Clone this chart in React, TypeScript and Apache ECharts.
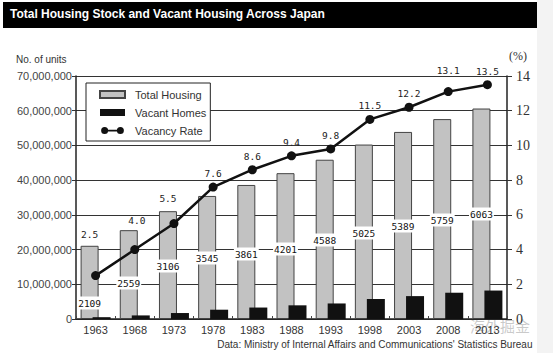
import React, { useEffect, useRef } from "react";
import * as echarts from "echarts";

const years = ["1963", "1968", "1973", "1978", "1983", "1988", "1993", "1998", "2003", "2008", "2013"];
const totalHousing = [21090000, 25590000, 31060000, 35450000, 38610000, 42010000, 45880000, 50250000, 53890000, 57590000, 60630000];
const vacantHomes = [522000, 1034000, 1720000, 2679000, 3302000, 3940000, 4476000, 5764000, 6593000, 7568000, 8196000];
const vacancyRate = [2.5, 4.0, 5.5, 7.6, 8.6, 9.4, 9.8, 11.5, 12.2, 13.1, 13.5];
const leftTicks = [0, 10000000, 20000000, 30000000, 40000000, 50000000, 60000000, 70000000];
const rightTicks = [0, 2, 4, 6, 8, 10, 12, 14];

// label placement styles (pixels)
const totalLabelLift = [17, 37, 54, 62, 66, 71, 80, 87, 94, 100, 106];
const rateLabelShift = [[-6, -28], [2, -16], [-6, -12], [0, 0], [0, 0], [0, 0], [0, 0], [0, 0], [0, 0], [0, -8], [0, 0]];

const lineIcon =
  "path://M4,0A4,4,0,1,1,4,8A4,4,0,1,1,4,0ZM22,0A4,4,0,1,1,22,8A4,4,0,1,1,22,0ZM4,3L22,3L22,5L4,5Z";

export default function App() {
  const ref = useRef<HTMLDivElement>(null);
  useEffect(() => {
    if (!ref.current) return;
    const chart = echarts.init(ref.current, null, { renderer: "svg" });
    chart.setOption({
      animation: false,
      backgroundColor: "#ffffff",
      grid: { left: 76, right: 46, top: 76, bottom: 34, containLabel: false },
      legend: {
        orient: "vertical",
        left: 86,
        top: 83,
        backgroundColor: "#ffffff",
        borderColor: "#222",
        borderWidth: 1,
        padding: [6, 4, 5, 13],
        itemWidth: 25,
        itemHeight: 7,
        itemGap: 7,
        textStyle: { fontSize: 11, fontFamily: "Liberation Sans", color: "#333", padding: [0, 0, 0, 5] },
        data: [
          { name: "Total Housing", icon: "rect" },
          { name: "Vacant Homes", icon: "rect" },
          { name: "Vacancy Rate", icon: lineIcon },
        ],
      },
      xAxis: {
        type: "category",
        data: years,
        axisLine: { lineStyle: { color: "#222", width: 1.5 } },
        axisTick: { show: true, inside: true, length: 3, lineStyle: { color: "#444" } },
        axisLabel: { fontSize: 11, fontFamily: "Liberation Sans", color: "#333", margin: 5 },
      },
      yAxis: [
        {
          type: "value",
          min: leftTicks[0],
          max: leftTicks[leftTicks.length - 1],
          interval: leftTicks[1] - leftTicks[0],
          axisLine: { show: true, lineStyle: { color: "#222", width: 1.5 } },
          axisTick: { show: true, inside: false, length: 4, lineStyle: { color: "#333" } },
          splitLine: { show: true, lineStyle: { color: "#333", width: 1.2 } },
          axisLabel: {
            fontSize: 11,
            fontFamily: "Liberation Sans",
            color: "#444",
            margin: 4,
            formatter: (v: number) => v.toLocaleString("en-US"),
          },
        },
        {
          type: "value",
          min: rightTicks[0],
          max: rightTicks[rightTicks.length - 1],
          interval: rightTicks[1] - rightTicks[0],
          position: "right",
          axisLine: { show: true, lineStyle: { color: "#222", width: 1.5 } },
          axisTick: { show: true, inside: false, length: 5, lineStyle: { color: "#333" } },
          splitLine: { show: false },
          axisLabel: { fontSize: 14, fontFamily: "Liberation Serif", color: "#333", margin: 9 },
        },
      ],
      series: [
        {
          name: "Total Housing",
          type: "bar",
          barWidth: 18,
          barGap: "-33.4%",
          itemStyle: { color: "#c2c2c2", borderColor: "#444", borderWidth: 1 },
          data: totalHousing.map((v, i) => ({
            value: v,
            label: { offset: [0, -(totalLabelLift[i] - 7.5)] },
          })),
          label: {
            show: true,
            position: "insideBottom",
            distance: 0,
            formatter: (p: any) => String(Math.round(p.value / 10000)),
            fontFamily: "DejaVu Sans Mono",
            fontSize: 9.5,
            color: "#111",
            backgroundColor: "#ffffff",
            padding: [2, 1, 1, 1],
          },
          z: 2,
        },
        {
          name: "Vacant Homes",
          type: "bar",
          barWidth: 18,
          itemStyle: { color: "#111" },
          data: vacantHomes,
          z: 2,
        },
        {
          name: "Vacancy Rate",
          type: "line",
          yAxisIndex: 1,
          symbol: "circle",
          symbolSize: 9,
          lineStyle: { color: "#111", width: 2.5 },
          itemStyle: { color: "#111" },
          data: vacancyRate.map((v, i) => ({
            value: v,
            label: { offset: rateLabelShift[i] },
          })),
          label: {
            show: true,
            position: "top",
            distance: 4,
            formatter: (p: any) => Number(p.value).toFixed(1),
            fontFamily: "DejaVu Sans Mono",
            fontSize: 9.5,
            color: "#222",
          },
          z: 4,
        },
      ],
      graphic: [
        { type: "rect", left: 537, top: 0, shape: { width: 16, height: 353 }, style: { fill: "#f3f3f3" }, silent: true },
        { type: "rect", left: 3, top: 2, shape: { width: 534, height: 26 }, style: { fill: "#000" }, silent: true },
        {
          type: "text",
          left: 10,
          top: 8,
          style: {
            text: "Total Housing Stock and Vacant Housing Across Japan",
            fill: "#fff",
            font: "bold 12px 'Liberation Sans'",
          },
        },
        {
          type: "text",
          left: 16,
          top: 54,
          style: { text: "No. of units", fill: "#333", font: "10px 'Liberation Sans'" },
        },
        {
          type: "text",
          left: 509,
          top: 50,
          style: { text: "(%)", fill: "#333", font: "12px 'Liberation Serif'" },
        },
        {
          type: "text",
          right: 20,
          top: 339,
          style: {
            text: "Data: Ministry of Internal Affairs and Communications' Statistics Bureau",
            fill: "#333",
            font: "10px 'Liberation Sans'",
          },
        },
        {
          type: "text",
          left: 470,
          top: 318,
          style: { text: "海外掘金", fill: "rgba(150,150,150,0.5)", font: "15px 'Noto Sans CJK SC'" },
          silent: true,
        },
      ],
    });
    return () => chart.dispose();
  }, []);
  return <div ref={ref} style={{ position: "fixed", left: 0, top: 0, width: 553, height: 353 }} />;
}
